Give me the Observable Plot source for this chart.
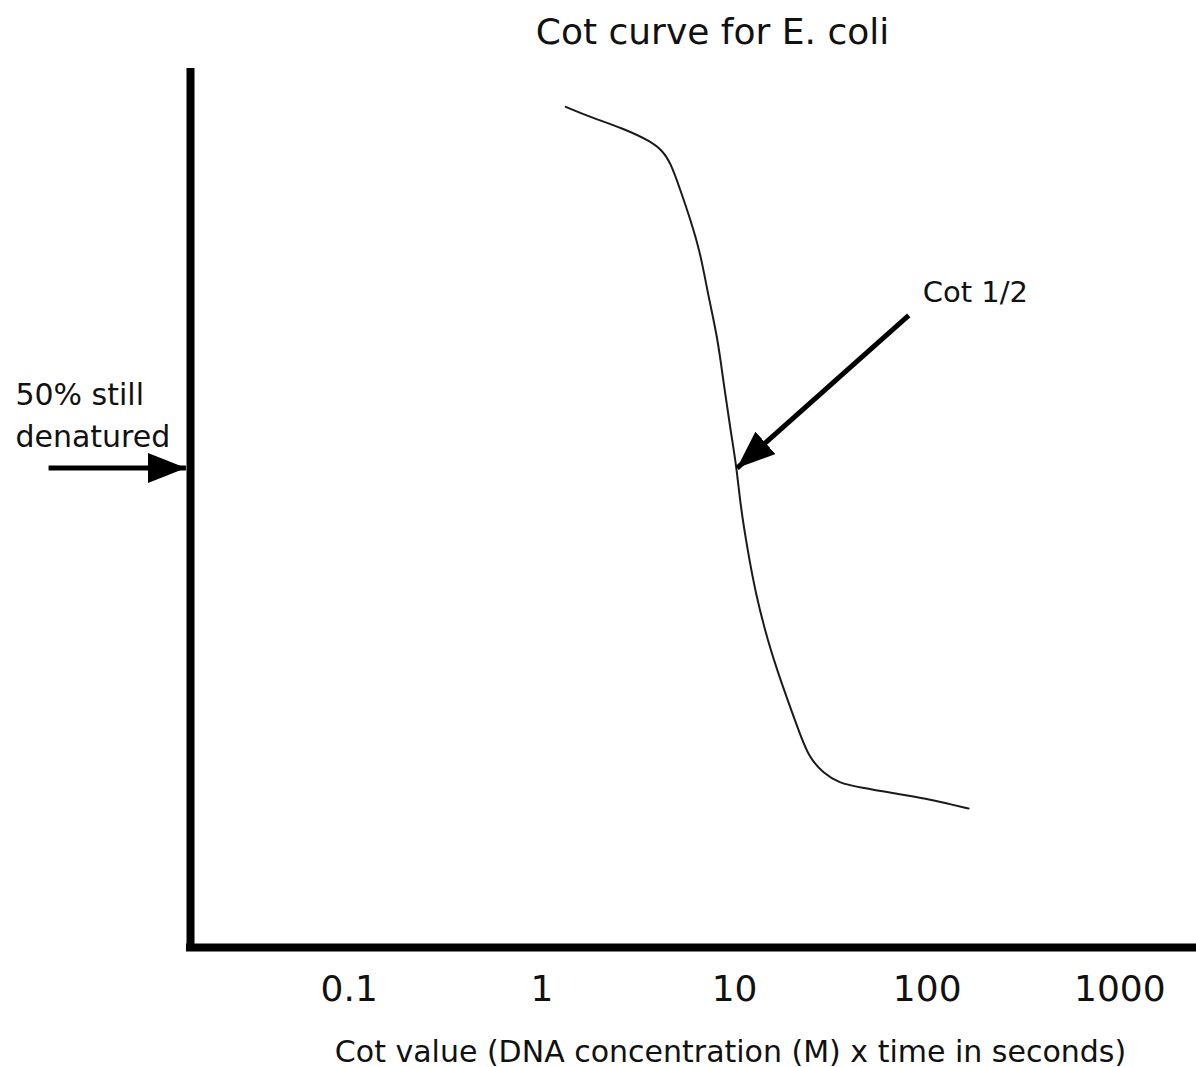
<!DOCTYPE html>
<html>
<head>
<meta charset="utf-8">
<script src="https://cdn.jsdelivr.net/npm/d3@7"></script>
<script src="https://cdn.jsdelivr.net/npm/@observablehq/plot@0.6"></script>
<style>
  html, body { margin: 0; padding: 0; background: #fff; }
  #chart svg { display: block; }
</style>
</head>
<body>
<div id="chart"></div>
<script>
// ---- data ----
const cotValues = [1.33, 1.79, 2.65, 3.67, 4.23, 4.66, 5.25, 5.92, 6.67, 7.34, 8.17, 8.78, 9.54, 10.25,
                   10.76, 11.70, 12.87, 14.85, 17.35, 21.27, 24.25, 29.01, 34.72, 45.2, 67.0, 101, 128, 164];
const fractionDenatured = [0.952, 0.939, 0.925, 0.909, 0.897, 0.882, 0.847, 0.810, 0.768, 0.713, 0.663, 0.606, 0.547, 0.501,
                           0.451, 0.397, 0.343, 0.284, 0.234, 0.175, 0.138, 0.118, 0.106, 0.100, 0.093, 0.086, 0.080, 0.074];
const tickValues = [0.1, 1, 10, 100, 1000];
const tickLabels = ["0.1", "1", "10", "100", "1000"];
const xDomain = [0.015, 2500];
const yDomain = [-0.1, 1];

// annotations
const titleText = "Cot curve for E. coli";
const xAxisTitle = "Cot value (DNA concentration (M) x time in seconds)";
const halfLevel = 0.5;
const cotHalf = 10.3;
const halfLabelLines = ["50% still", "denatured"];
const halfLabelAt = {x: 0.00185, y: 0.526};
const leftArrowFrom = 0.00275, leftArrowTo = 0.0142;
const cotArrowFrom = {x: 80.2, y: 0.691};
const cotLabel = "Cot 1/2";
const cotLabelAt = {x: 94.8, y: 0.708};

const curve = cotValues.map((c, i) => ({cot: c, frac: fractionDenatured[i]}));
const tickMap = new Map(tickValues.map((v, i) => [v, tickLabels[i]]));

const svg = Plot.plot({
  width: 1196,
  height: 1067,
  marginLeft: 190,
  marginRight: 0,
  marginTop: 68,
  marginBottom: 120,
  style: {fontFamily: "'DejaVu Sans', sans-serif", background: "#fff", color: "#111", overflow: "visible"},
  x: {type: "log", domain: xDomain, axis: null},
  y: {domain: yDomain, axis: null},
  marks: [
    Plot.ruleX([xDomain[0]], {stroke: "#000", strokeWidth: 8}),
    Plot.ruleY([yDomain[0]], {stroke: "#000", strokeWidth: 8, strokeLinecap: "square"}),
    Plot.axisX(tickValues, {tickSize: 0, tickPadding: 28, fontSize: 36, tickFormat: d => tickMap.get(d), label: null, fill: "#111"}),
    Plot.line(curve, {x: "cot", y: "frac", curve: "basis", stroke: "#1a1a1a", strokeWidth: 2}),
    Plot.link([0], {x1: () => leftArrowFrom, x2: () => leftArrowTo, y1: () => halfLevel, y2: () => halfLevel,
                    stroke: "#000", strokeWidth: 5, markerEnd: "arrow"}),
    Plot.link([0], {x1: () => cotArrowFrom.x, y1: () => cotArrowFrom.y, x2: () => cotHalf, y2: () => halfLevel,
                    stroke: "#000", strokeWidth: 5, markerEnd: "arrow"}),
    Plot.text([halfLabelLines.join("\n")], {x: () => halfLabelAt.x, y: () => halfLabelAt.y, text: d => d,
                    textAnchor: "start", lineAnchor: "bottom", lineHeight: 1.4, fontSize: 30, fill: "#111"}),
    Plot.text([cotLabel], {x: () => cotLabelAt.x, y: () => cotLabelAt.y, text: d => d,
                    textAnchor: "start", lineAnchor: "bottom", fontSize: 29, fill: "#111"}),
    Plot.text([titleText], {frameAnchor: "top", text: d => d, dx: 19, dy: -25, lineAnchor: "bottom", fontSize: 36, fill: "#111"}),
    Plot.text([xAxisTitle], {frameAnchor: "bottom", text: d => d, dx: 37, dy: 114, lineAnchor: "bottom", fontSize: 30, fill: "#111"})
  ]
});

// turn the arrow markers into filled triangular heads
svg.querySelectorAll("marker").forEach(m => {
  m.setAttribute("viewBox", "-38 -15 38 30");
  m.setAttribute("markerUnits", "userSpaceOnUse");
  m.setAttribute("markerWidth", "38");
  m.setAttribute("markerHeight", "30");
  m.setAttribute("refX", "0");
  m.setAttribute("refY", "0");
  m.setAttribute("fill", "#000");
  m.setAttribute("stroke", "none");
  const p = m.querySelector("path");
  if (p) p.setAttribute("d", "M-38,-15L0,0L-38,15Z");
});

document.getElementById("chart").appendChild(svg);
</script>
</body>
</html>
